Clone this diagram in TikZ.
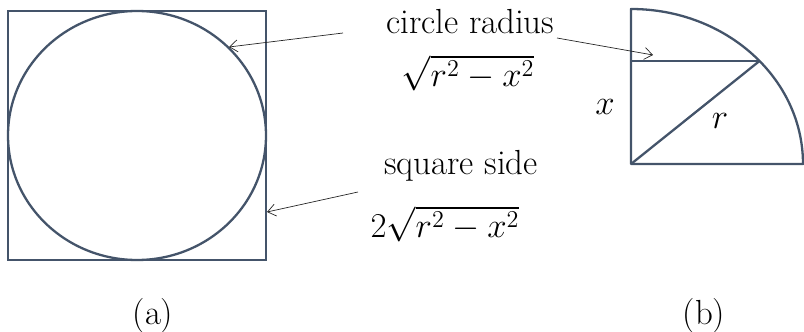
\documentclass[tikz,border=0pt]{standalone}
\usetikzlibrary{arrows.meta}
\definecolor{slate}{RGB}{68,84,106}
\tikzset{
  shape line/.style={draw=slate, line width=2.3pt},
  pointer/.style={draw=black!85, line width=0.7pt, -{Straight Barb[length=8pt,width=12pt,line width=0.7pt]}},
  lbl/.style={inner sep=0pt, font=\huge, scale=1.68},
}
\begin{document}
\begin{tikzpicture}[x=1pt,y=-1pt]
\useasboundingbox (0,0) rectangle (804,332);
% (a) square and inscribed circle
\draw[shape line] (8,11) rectangle (266,260);
\draw[shape line] (137,135.5) ellipse [x radius=129pt, y radius=124.5pt];
\coordinate (circPt) at (229,47);
\coordinate (sqPt) at (267,212);
% (b) quarter circle
\coordinate (O) at (631,164);
\coordinate (T) at (631,9);
\coordinate (Q) at (631,61);
\coordinate (P) at (759.5,61);
\draw[shape line, line join=round] (O) -- (T) arc[start angle=90, end angle=0, x radius=172pt, y radius=155pt] -- cycle;
\draw[shape line] (Q) -- (P);
\draw[shape line] (O) -- (P);
\coordinate (chordPt) at (653,55);
% labels
\node[lbl, anchor=base west] (cr) at (386,34) {circle radius};
\node[lbl] (crf) at (468,73) {$\sqrt{r^2-x^2}$};
\node[lbl, anchor=base west] (ss) at (384,174) {square side};
\node[lbl] (ssf) at (445,224) {$2\sqrt{r^2-x^2}$};
\node[lbl] (xl) at (605,107) {$x$};
\node[lbl] (rl) at (720,121) {$r$};
\node[lbl] (la) at (153,316) {(a)};
\node[lbl] (lb) at (704,316) {(b)};
% pointers
\coordinate (s1) at (343,33);
\coordinate (s2) at (557,38);
\coordinate (s3) at (358,192);
\draw[pointer] (s1) -- (circPt);
\draw[pointer] (s2) -- (chordPt);
\draw[pointer] (s3) -- (sqPt);
\end{tikzpicture}
\end{document}
